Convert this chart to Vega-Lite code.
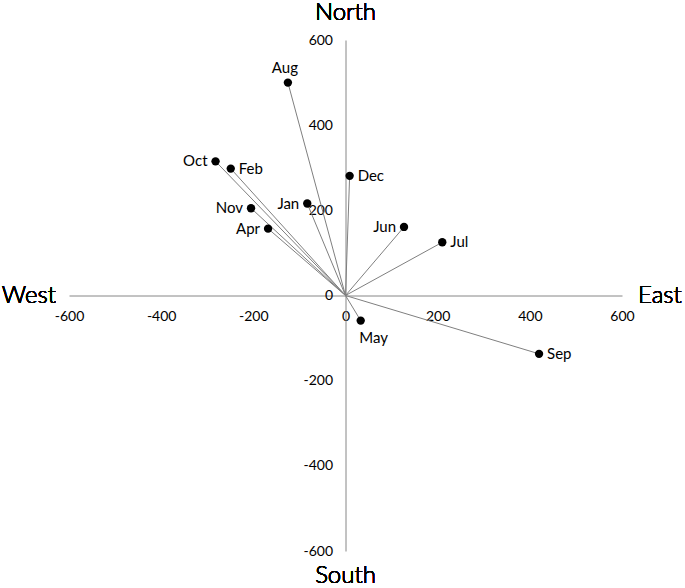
{
  "$schema": "https://vega.github.io/schema/vega-lite/v6.json",
  "width": 553,
  "height": 511,
  "autosize": {"type": "none"},
  "padding": {"left": 69, "top": 40, "right": 63, "bottom": 37},
  "background": "white",
  "config": {
    "view": {"stroke": null},
    "font": "Lato",
    "text": {"font": "Lato"}
  },
  "data": {
    "values": [
      {"month": "Jan", "x": -83, "y": 216},
      {"month": "Feb", "x": -249, "y": 298},
      {"month": "Apr", "x": -168, "y": 157},
      {"month": "May", "x": 33, "y": -59},
      {"month": "Jun", "x": 127, "y": 161},
      {"month": "Jul", "x": 210, "y": 125},
      {"month": "Aug", "x": -125, "y": 500},
      {"month": "Sep", "x": 420, "y": -137},
      {"month": "Oct", "x": -282, "y": 315},
      {"month": "Nov", "x": -205, "y": 205},
      {"month": "Dec", "x": 9, "y": 281}
    ]
  },
  "encoding": {
    "x": {
      "field": "x", "type": "quantitative",
      "scale": {"domain": [-600, 600], "nice": false, "zero": false},
      "axis": {
        "orient": "bottom", "offset": -255.5, "title": null, "grid": false, "ticks": false,
        "values": [-600, -400, -200, 0, 200, 400, 600],
        "labelExpr": "'' + datum.value",
        "labelFlush": false, "labelPadding": 14, "labelFont": "Lato", "labelFontSize": 14,
        "labelColor": "black", "domainColor": "#868686", "domainWidth": 1
      }
    },
    "y": {
      "field": "y", "type": "quantitative",
      "scale": {"domain": [-600, 600], "nice": false, "zero": false},
      "axis": {
        "orient": "left", "offset": -276.5, "title": null, "grid": false, "ticks": false,
        "values": [-600, -400, -200, 0, 200, 400, 600],
        "labelExpr": "'' + datum.value",
        "labelFlush": false, "labelPadding": 13, "labelFont": "Lato", "labelFontSize": 14,
        "labelColor": "black", "domainColor": "#868686", "domainWidth": 1
      }
    }
  },
  "layer": [
    {
      "mark": {"type": "rule", "color": "#7f7f7f", "strokeWidth": 1},
      "encoding": {
        "x": {"datum": 0, "type": "quantitative"},
        "y": {"datum": 0, "type": "quantitative"},
        "x2": {"field": "x"},
        "y2": {"field": "y"}
      }
    },
    {
      "mark": {"type": "point", "filled": true, "color": "black", "size": 70, "opacity": 1}
    },
    {
      "transform": [{"filter": "indexof(['Oct','Nov','Apr','Jan','Jun'], datum.month) >= 0"}],
      "mark": {"type": "text", "align": "right", "baseline": "middle", "dx": -8, "fontSize": 15, "color": "black"},
      "encoding": {"text": {"field": "month"}}
    },
    {
      "transform": [{"filter": "indexof(['Feb','Dec','Jul','Sep'], datum.month) >= 0"}],
      "mark": {"type": "text", "align": "left", "baseline": "middle", "dx": 8, "fontSize": 15, "color": "black"},
      "encoding": {"text": {"field": "month"}}
    },
    {
      "transform": [{"filter": "datum.month == 'Aug'"}],
      "mark": {"type": "text", "align": "center", "baseline": "middle", "dx": -3, "dy": -15, "fontSize": 15, "color": "black"},
      "encoding": {"text": {"field": "month"}}
    },
    {
      "transform": [{"filter": "datum.month == 'May'"}],
      "mark": {"type": "text", "align": "center", "baseline": "middle", "dx": 13, "dy": 17, "fontSize": 15, "color": "black"},
      "encoding": {"text": {"field": "month"}}
    },
    {
      "mark": {"type": "text", "align": "center", "baseline": "middle", "dy": -27, "fontSize": 24, "fontWeight": 300, "color": "black"},
      "encoding": {
        "x": {"datum": 0, "type": "quantitative"},
        "y": {"datum": 600, "type": "quantitative"},
        "text": {"value": "North"}
      }
    },
    {
      "mark": {"type": "text", "align": "center", "baseline": "middle", "dy": 25, "fontSize": 24, "fontWeight": 300, "color": "black"},
      "encoding": {
        "x": {"datum": 0, "type": "quantitative"},
        "y": {"datum": -600, "type": "quantitative"},
        "text": {"value": "South"}
      }
    },
    {
      "mark": {"type": "text", "align": "right", "baseline": "middle", "dx": -13, "fontSize": 24, "fontWeight": 300, "color": "black"},
      "encoding": {
        "x": {"datum": -600, "type": "quantitative"},
        "y": {"datum": 0, "type": "quantitative"},
        "text": {"value": "West"}
      }
    },
    {
      "mark": {"type": "text", "align": "left", "baseline": "middle", "dx": 16, "fontSize": 24, "fontWeight": 300, "color": "black"},
      "encoding": {
        "x": {"datum": 600, "type": "quantitative"},
        "y": {"datum": 0, "type": "quantitative"},
        "text": {"value": "East"}
      }
    }
  ]
}
